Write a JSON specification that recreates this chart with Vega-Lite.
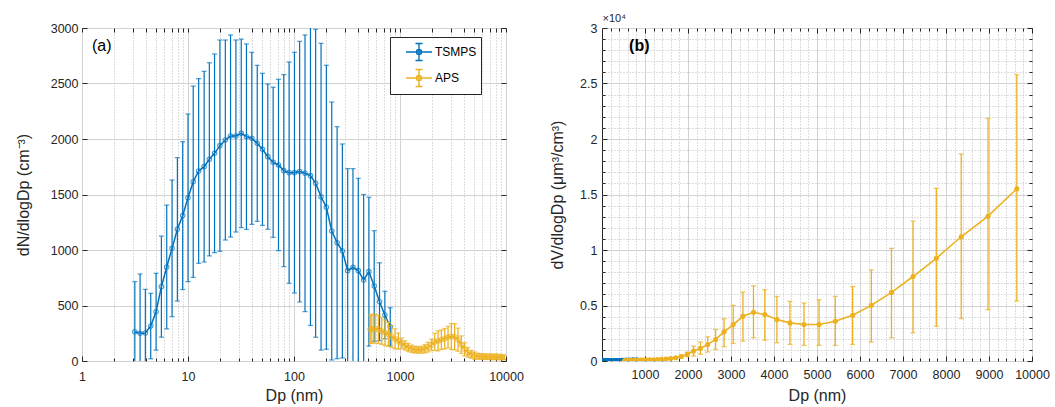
{
  "$schema": "https://vega.github.io/schema/vega-lite/v6.json",
  "background": "white",
  "padding": {"left": 14, "top": 11, "right": 3, "bottom": 3},
  "bounds": "flush",
  "spacing": 96,
  "config": {
    "font": "Liberation Sans",
    "view": {"stroke": "#262626", "strokeWidth": 1, "fill": "white"},
    "axis": {
      "domain": false,
      "labelFont": "Liberation Sans",
      "labelFontSize": 12.5,
      "labelColor": "#262626",
      "titleFont": "Liberation Sans",
      "titleFontSize": 16,
      "titleFontWeight": "normal",
      "titleColor": "#262626",
      "tickColor": "#262626",
      "tickWidth": 1,
      "gridColor": "#d2d2d2",
      "gridWidth": 1
    }
  },
  "datasets": {
    "tsmps": [
      {"Dp": 3.15, "dN": 264, "lo": -187, "hi": 715, "dV": 0.0000},
      {"Dp": 3.53, "dN": 249, "lo": -286, "hi": 784, "dV": 0.0000},
      {"Dp": 3.96, "dN": 252, "lo": -142, "hi": 646, "dV": 0.0000},
      {"Dp": 4.45, "dN": 315, "lo": 20, "hi": 610, "dV": 0.0000},
      {"Dp": 5.00, "dN": 444, "lo": 98, "hi": 790, "dV": 0.0000},
      {"Dp": 5.61, "dN": 670, "lo": 215, "hi": 1125, "dV": 0.0001},
      {"Dp": 6.30, "dN": 847, "lo": 289, "hi": 1405, "dV": 0.0001},
      {"Dp": 7.07, "dN": 1015, "lo": 400, "hi": 1630, "dV": 0.0002},
      {"Dp": 7.94, "dN": 1186, "lo": 540, "hi": 1832, "dV": 0.0003},
      {"Dp": 8.91, "dN": 1310, "lo": 644, "hi": 1976, "dV": 0.0005},
      {"Dp": 10.0, "dN": 1470, "lo": 715, "hi": 2225, "dV": 0.0008},
      {"Dp": 11.2, "dN": 1615, "lo": 753, "hi": 2477, "dV": 0.0012},
      {"Dp": 12.6, "dN": 1712, "lo": 880, "hi": 2544, "dV": 0.0018},
      {"Dp": 14.2, "dN": 1751, "lo": 892, "hi": 2610, "dV": 0.0026},
      {"Dp": 15.9, "dN": 1817, "lo": 947, "hi": 2687, "dV": 0.004},
      {"Dp": 17.8, "dN": 1871, "lo": 976, "hi": 2766, "dV": 0.006},
      {"Dp": 20.0, "dN": 1940, "lo": 988, "hi": 2892, "dV": 0.008},
      {"Dp": 22.5, "dN": 1991, "lo": 1090, "hi": 2892, "dV": 0.012},
      {"Dp": 25.2, "dN": 2027, "lo": 1117, "hi": 2937, "dV": 0.017},
      {"Dp": 28.3, "dN": 2027, "lo": 1162, "hi": 2892, "dV": 0.024},
      {"Dp": 31.8, "dN": 2051, "lo": 1202, "hi": 2900, "dV": 0.035},
      {"Dp": 35.6, "dN": 2021, "lo": 1186, "hi": 2856, "dV": 0.048},
      {"Dp": 40.0, "dN": 2006, "lo": 1231, "hi": 2781, "dV": 0.067},
      {"Dp": 45.0, "dN": 1961, "lo": 1258, "hi": 2664, "dV": 0.094},
      {"Dp": 50.4, "dN": 1907, "lo": 1222, "hi": 2592, "dV": 0.128},
      {"Dp": 56.6, "dN": 1841, "lo": 1187, "hi": 2495, "dV": 0.175},
      {"Dp": 63.6, "dN": 1790, "lo": 1114, "hi": 2466, "dV": 0.241},
      {"Dp": 71.4, "dN": 1766, "lo": 994, "hi": 2538, "dV": 0.337},
      {"Dp": 80.1, "dN": 1715, "lo": 850, "hi": 2580, "dV": 0.461},
      {"Dp": 89.9, "dN": 1697, "lo": 700, "hi": 2694, "dV": 0.645},
      {"Dp": 101, "dN": 1697, "lo": 613, "hi": 2781, "dV": 0.92},
      {"Dp": 113, "dN": 1706, "lo": 532, "hi": 2880, "dV": 1.3},
      {"Dp": 127, "dN": 1691, "lo": 445, "hi": 2937, "dV": 1.8},
      {"Dp": 143, "dN": 1670, "lo": 320, "hi": 3020, "dV": 2.6},
      {"Dp": 160, "dN": 1601, "lo": 214, "hi": 2988, "dV": 3.4},
      {"Dp": 180, "dN": 1480, "lo": 98, "hi": 2862, "dV": 4.5},
      {"Dp": 202, "dN": 1385, "lo": 106, "hi": 2664, "dV": 6.0},
      {"Dp": 227, "dN": 1171, "lo": 9, "hi": 2333, "dV": 7.2},
      {"Dp": 255, "dN": 1066, "lo": 21, "hi": 2111, "dV": 9.3},
      {"Dp": 286, "dN": 991, "lo": 27, "hi": 1955, "dV": 12},
      {"Dp": 321, "dN": 814, "lo": -105, "hi": 1733, "dV": 14},
      {"Dp": 360, "dN": 844, "lo": -45, "hi": 1733, "dV": 21},
      {"Dp": 404, "dN": 814, "lo": -18, "hi": 1646, "dV": 28},
      {"Dp": 454, "dN": 730, "lo": -40, "hi": 1500, "dV": 36},
      {"Dp": 509, "dN": 805, "lo": 135, "hi": 1475, "dV": 56},
      {"Dp": 571, "dN": 676, "lo": 178, "hi": 1174, "dV": 66},
      {"Dp": 641, "dN": 534, "lo": 183, "hi": 885, "dV": 74},
      {"Dp": 720, "dN": 414, "lo": 200, "hi": 628, "dV": 81},
      {"Dp": 809, "dN": 309, "lo": 138, "hi": 480, "dV": 86}
    ],
    "aps": [
      {"Dp": 523, "dN": 285, "dNlo": 157, "dNhi": 413, "dV": 21, "dVlo": 12, "dVhi": 30},
      {"Dp": 542, "dN": 290, "dNlo": 160, "dNhi": 421, "dV": 24, "dVlo": 13, "dVhi": 35},
      {"Dp": 583, "dN": 292, "dNlo": 161, "dNhi": 423, "dV": 30, "dVlo": 17, "dVhi": 44},
      {"Dp": 626, "dN": 285, "dNlo": 157, "dNhi": 413, "dV": 37, "dVlo": 20, "dVhi": 54},
      {"Dp": 673, "dN": 270, "dNlo": 149, "dNhi": 392, "dV": 43, "dVlo": 24, "dVhi": 62},
      {"Dp": 723, "dN": 255, "dNlo": 140, "dNhi": 370, "dV": 50, "dVlo": 28, "dVhi": 73},
      {"Dp": 777, "dN": 240, "dNlo": 132, "dNhi": 348, "dV": 59, "dVlo": 32, "dVhi": 86},
      {"Dp": 835, "dN": 220, "dNlo": 121, "dNhi": 319, "dV": 67, "dVlo": 37, "dVhi": 97},
      {"Dp": 898, "dN": 200, "dNlo": 110, "dNhi": 290, "dV": 76, "dVlo": 42, "dVhi": 110},
      {"Dp": 965, "dN": 180, "dNlo": 108, "dNhi": 252, "dV": 85, "dVlo": 51, "dVhi": 119},
      {"Dp": 1037, "dN": 160, "dNlo": 112, "dNhi": 208, "dV": 93, "dVlo": 65, "dVhi": 121},
      {"Dp": 1114, "dN": 140, "dNlo": 98, "dNhi": 182, "dV": 101, "dVlo": 71, "dVhi": 131},
      {"Dp": 1197, "dN": 122, "dNlo": 85, "dNhi": 159, "dV": 110, "dVlo": 77, "dVhi": 143},
      {"Dp": 1286, "dN": 110, "dNlo": 77, "dNhi": 143, "dV": 122, "dVlo": 85, "dVhi": 159},
      {"Dp": 1382, "dN": 103, "dNlo": 72, "dNhi": 134, "dV": 142, "dVlo": 99, "dVhi": 185},
      {"Dp": 1486, "dN": 100, "dNlo": 70, "dNhi": 130, "dV": 172, "dVlo": 120, "dVhi": 224},
      {"Dp": 1596, "dN": 102, "dNlo": 71, "dNhi": 133, "dV": 217, "dVlo": 152, "dVhi": 282},
      {"Dp": 1715, "dN": 110, "dNlo": 72, "dNhi": 149, "dV": 291, "dVlo": 189, "dVhi": 393},
      {"Dp": 1843, "dN": 125, "dNlo": 81, "dNhi": 169, "dV": 410, "dVlo": 267, "dVhi": 554},
      {"Dp": 1981, "dN": 145, "dNlo": 94, "dNhi": 196, "dV": 590, "dVlo": 384, "dVhi": 797},
      {"Dp": 2129, "dN": 172, "dNlo": 95, "dNhi": 249, "dV": 896, "dVlo": 448, "dVhi": 1343},
      {"Dp": 2288, "dN": 181, "dNlo": 91, "dNhi": 272, "dV": 1134, "dVlo": 597, "dVhi": 1701},
      {"Dp": 2458, "dN": 192, "dNlo": 104, "dNhi": 280, "dV": 1493, "dVlo": 806, "dVhi": 2179},
      {"Dp": 2642, "dN": 201, "dNlo": 109, "dNhi": 293, "dV": 1940, "dVlo": 1045, "dVhi": 2836},
      {"Dp": 2839, "dN": 215, "dNlo": 118, "dNhi": 312, "dV": 2627, "dVlo": 1284, "dVhi": 3821},
      {"Dp": 3051, "dN": 221, "dNlo": 104, "dNhi": 338, "dV": 3284, "dVlo": 1582, "dVhi": 5015},
      {"Dp": 3278, "dN": 218, "dNlo": 100, "dNhi": 336, "dV": 4030, "dVlo": 1791, "dVhi": 6209},
      {"Dp": 3523, "dN": 192, "dNlo": 88, "dNhi": 296, "dV": 4388, "dVlo": 2090, "dVhi": 6776},
      {"Dp": 3786, "dN": 147, "dNlo": 68, "dNhi": 226, "dV": 4179, "dVlo": 1881, "dVhi": 6418},
      {"Dp": 4068, "dN": 106, "dNlo": 47, "dNhi": 165, "dV": 3731, "dVlo": 1642, "dVhi": 5821},
      {"Dp": 4371, "dN": 78, "dNlo": 34, "dNhi": 122, "dV": 3433, "dVlo": 1493, "dVhi": 5373},
      {"Dp": 4698, "dN": 60, "dNlo": 25, "dNhi": 95, "dV": 3284, "dVlo": 1403, "dVhi": 5224},
      {"Dp": 5048, "dN": 49, "dNlo": 16, "dNhi": 82, "dV": 3284, "dVlo": 1403, "dVhi": 5522},
      {"Dp": 5425, "dN": 43, "dNlo": 16, "dNhi": 70, "dV": 3582, "dVlo": 1403, "dVhi": 5821},
      {"Dp": 5829, "dN": 40, "dNlo": 15, "dNhi": 65, "dV": 4119, "dVlo": 1493, "dVhi": 6716},
      {"Dp": 6264, "dN": 39, "dNlo": 14, "dNhi": 64, "dV": 5015, "dVlo": 1701, "dVhi": 8209},
      {"Dp": 6732, "dN": 38.7, "dNlo": 14, "dNhi": 64, "dV": 6179, "dVlo": 2090, "dVhi": 10149},
      {"Dp": 7234, "dN": 38.4, "dNlo": 13, "dNhi": 63, "dV": 7612, "dVlo": 2537, "dVhi": 12597},
      {"Dp": 7774, "dN": 37.6, "dNlo": 12, "dNhi": 63, "dV": 9254, "dVlo": 3134, "dVhi": 15558},
      {"Dp": 8354, "dN": 36.7, "dNlo": 12, "dNhi": 61, "dV": 11194, "dVlo": 3821, "dVhi": 18649},
      {"Dp": 8977, "dN": 34.4, "dNlo": 11, "dNhi": 58, "dV": 13045, "dVlo": 4627, "dVhi": 21865},
      {"Dp": 9647, "dN": 33, "dNlo": 11, "dNhi": 55, "dV": 15522, "dVlo": 5400, "dVhi": 25800}
    ]
  },
  "hconcat": [
    {
      "width": 424,
      "height": 333,
      "resolve": {"axis": {"x": "independent", "y": "independent"}},
      "layer": [
        {
          "data": {"name": "tsmps"},
          "mark": {"type": "rule", "clip": true, "color": "#0072BD", "strokeWidth": 1.2},
          "encoding": {
            "x": {"field": "Dp", "type": "quantitative", "scale": {"type": "log", "domain": [1, 10000], "nice": false},
              "axis": {"orient": "bottom", "values": [1, 10, 100, 1000, 10000], "format": "d", "title": "Dp (nm)", "grid": true, "ticks": false, "labelPadding": 9, "labelFlush": false, "labelOverlap": false, "titleY": 34, "titleBaseline": "middle"}},
            "y": {"field": "lo", "type": "quantitative", "scale": {"domain": [0, 3000], "nice": false},
              "axis": {"orient": "left", "values": [0, 500, 1000, 1500, 2000, 2500, 3000], "format": "d", "title": "dN/dlogDp (cm⁻³)", "grid": true, "ticks": false, "labelPadding": 4, "titleX": -59, "titleBaseline": "middle"}},
            "y2": {"field": "hi"}
          }
        },
        {
          "data": {"name": "tsmps"},
          "mark": {"type": "tick", "orient": "horizontal", "size": 5, "thickness": 1.2, "clip": true, "color": "#0072BD"},
          "encoding": {
            "x": {"field": "Dp", "type": "quantitative", "scale": {"type": "log", "domain": [1, 10000], "nice": false},
              "axis": {"orient": "bottom", "values": [2, 3, 4, 5, 6, 7, 8, 9, 20, 30, 40, 50, 60, 70, 80, 90, 200, 300, 400, 500, 600, 700, 800, 900, 2000, 3000, 4000, 5000, 6000, 7000, 8000, 9000], "labels": false, "title": null, "grid": true, "gridColor": "#bdbdbd", "gridDash": [1, 2], "ticks": true, "tickSize": -3}},
            "y": {"field": "hi", "type": "quantitative", "scale": {"domain": [0, 3000], "nice": false},
              "axis": {"orient": "left", "values": [0, 500, 1000, 1500, 2000, 2500, 3000], "labels": false, "title": null, "grid": false, "ticks": true, "tickSize": -5}}
          }
        },
        {
          "data": {"name": "tsmps"},
          "mark": {"type": "tick", "orient": "horizontal", "size": 5, "thickness": 1.2, "clip": true, "color": "#0072BD"},
          "encoding": {
            "x": {"field": "Dp", "type": "quantitative", "scale": {"type": "log", "domain": [1, 10000], "nice": false},
              "axis": {"orient": "bottom", "values": [1, 10, 100, 1000, 10000], "labels": false, "title": null, "grid": false, "ticks": true, "tickSize": -5}},
            "y": {"field": "lo", "type": "quantitative", "scale": {"domain": [0, 3000], "nice": false},
              "axis": {"orient": "right", "values": [0, 500, 1000, 1500, 2000, 2500, 3000], "labels": false, "title": null, "grid": false, "ticks": true, "tickSize": -5}}
          }
        },
        {
          "data": {"name": "tsmps"},
          "mark": {"type": "line", "strokeWidth": 1.5, "clip": true},
          "encoding": {
            "x": {"field": "Dp", "type": "quantitative", "scale": {"type": "log", "domain": [1, 10000], "nice": false},
              "axis": {"orient": "top", "values": [1, 2, 3, 4, 5, 6, 7, 8, 9, 10, 20, 30, 40, 50, 60, 70, 80, 90, 100, 200, 300, 400, 500, 600, 700, 800, 900, 1000, 2000, 3000, 4000, 5000, 6000, 7000, 8000, 9000, 10000], "labels": false, "title": null, "grid": false, "ticks": true, "tickSize": -4}},
            "y": {"field": "dN", "type": "quantitative", "scale": {"domain": [0, 3000], "nice": false}, "axis": null},
            "color": {"datum": "TSMPS", "type": "nominal",
              "scale": {"domain": ["TSMPS", "APS"], "range": ["#0072BD", "#EDB120"]},
              "legend": {"orient": "none", "legendX": 308, "legendY": 9, "title": null,
                "symbolType": "M-1.3,0H1.3M0,-0.85V0.85M-0.35,-0.85H0.35M-0.35,0.85H0.35M0.25,0A0.25,0.25 0 1 1 -0.25,0A0.25,0.25 0 1 1 0.25,0",
                "symbolSize": 400, "symbolStrokeWidth": 1.4, "symbolOffset": 14, "labelOffset": 5,
                "padding": 4, "rowPadding": 2, "labelFontSize": 12, "labelFont": "Liberation Sans", "labelColor": "#000000",
                "strokeColor": "#262626", "fillColor": "white", "cornerRadius": 0,
                "labelExpr": "datum.label + '     '"}}
          }
        },
        {
          "data": {"name": "tsmps"},
          "mark": {"type": "point", "shape": "circle", "filled": false, "size": 20, "strokeWidth": 1.1, "color": "#0072BD", "clip": true},
          "encoding": {
            "x": {"field": "Dp", "type": "quantitative", "scale": {"type": "log", "domain": [1, 10000], "nice": false}, "axis": null},
            "y": {"field": "dN", "type": "quantitative", "scale": {"domain": [0, 3000], "nice": false}, "axis": null}
          }
        },
        {
          "data": {"name": "aps"},
          "mark": {"type": "rule", "clip": true, "color": "#EDB120", "strokeWidth": 1.3},
          "encoding": {
            "x": {"field": "Dp", "type": "quantitative", "scale": {"type": "log", "domain": [1, 10000], "nice": false}, "axis": null},
            "y": {"field": "dNlo", "type": "quantitative", "scale": {"domain": [0, 3000], "nice": false}, "axis": null},
            "y2": {"field": "dNhi"}
          }
        },
        {
          "data": {"name": "aps"},
          "mark": {"type": "tick", "orient": "horizontal", "size": 5, "thickness": 1.3, "clip": true, "color": "#EDB120"},
          "encoding": {
            "x": {"field": "Dp", "type": "quantitative", "scale": {"type": "log", "domain": [1, 10000], "nice": false}, "axis": null},
            "y": {"field": "dNhi", "type": "quantitative", "scale": {"domain": [0, 3000], "nice": false}, "axis": null}
          }
        },
        {
          "data": {"name": "aps"},
          "mark": {"type": "tick", "orient": "horizontal", "size": 5, "thickness": 1.3, "clip": true, "color": "#EDB120"},
          "encoding": {
            "x": {"field": "Dp", "type": "quantitative", "scale": {"type": "log", "domain": [1, 10000], "nice": false}, "axis": null},
            "y": {"field": "dNlo", "type": "quantitative", "scale": {"domain": [0, 3000], "nice": false}, "axis": null}
          }
        },
        {
          "data": {"name": "aps"},
          "mark": {"type": "line", "strokeWidth": 1.6, "clip": true},
          "encoding": {
            "x": {"field": "Dp", "type": "quantitative", "scale": {"type": "log", "domain": [1, 10000], "nice": false}, "axis": null},
            "y": {"field": "dN", "type": "quantitative", "scale": {"domain": [0, 3000], "nice": false}, "axis": null},
            "color": {"datum": "APS", "type": "nominal",
              "scale": {"domain": ["TSMPS", "APS"], "range": ["#0072BD", "#EDB120"]},
              "legend": {"orient": "none", "legendX": 308, "legendY": 9, "title": null,
                "symbolType": "M-1.3,0H1.3M0,-0.85V0.85M-0.35,-0.85H0.35M-0.35,0.85H0.35M0.25,0A0.25,0.25 0 1 1 -0.25,0A0.25,0.25 0 1 1 0.25,0",
                "symbolSize": 400, "symbolStrokeWidth": 1.4, "symbolOffset": 14, "labelOffset": 5,
                "padding": 4, "rowPadding": 2, "labelFontSize": 12, "labelFont": "Liberation Sans", "labelColor": "#000000",
                "strokeColor": "#262626", "fillColor": "white", "cornerRadius": 0,
                "labelExpr": "datum.label + '     '"}}
          }
        },
        {
          "data": {"name": "aps"},
          "mark": {"type": "point", "shape": "circle", "filled": false, "size": 22, "strokeWidth": 1.2, "color": "#EDB120", "clip": true},
          "encoding": {
            "x": {"field": "Dp", "type": "quantitative", "scale": {"type": "log", "domain": [1, 10000], "nice": false}, "axis": null},
            "y": {"field": "dN", "type": "quantitative", "scale": {"domain": [0, 3000], "nice": false}, "axis": null}
          }
        },
        {
          "data": {"values": [{"label": "(a)"}]},
          "mark": {"type": "text", "align": "left", "baseline": "middle", "fontSize": 16, "font": "Liberation Sans", "color": "#000000"},
          "encoding": {
            "x": {"datum": 1.24, "type": "quantitative", "scale": {"type": "log", "domain": [1, 10000], "nice": false}, "axis": null},
            "y": {"datum": 2840, "type": "quantitative", "scale": {"domain": [0, 3000], "nice": false}, "axis": null},
            "text": {"field": "label"}
          }
        }
      ]
    },
    {
      "width": 430,
      "height": 333,
      "resolve": {"axis": {"x": "independent", "y": "independent"}},
      "layer": [
        {
          "data": {"name": "tsmps"},
          "mark": {"type": "line", "strokeWidth": 2, "color": "#0072BD", "clip": true},
          "encoding": {
            "x": {"field": "Dp", "type": "quantitative", "scale": {"domain": [0, 10000], "nice": false, "zero": false},
              "axis": {"orient": "bottom", "values": [1000, 2000, 3000, 4000, 5000, 6000, 7000, 8000, 9000, 10000], "format": "d", "title": "Dp (nm)", "grid": true, "ticks": false, "labelPadding": 7, "labelFlush": false, "labelOverlap": false, "titleY": 34, "titleBaseline": "middle"}},
            "y": {"field": "dV", "type": "quantitative", "scale": {"domain": [0, 30000], "nice": false},
              "axis": {"orient": "left", "values": [0, 5000, 10000, 15000, 20000, 25000, 30000], "labelExpr": "datum.value / 10000", "title": "dV/dlogDp (μm³/cm³)", "grid": true, "ticks": false, "labelPadding": 5, "titleX": -45, "titleBaseline": "middle"}}
          }
        },
        {
          "data": {"name": "tsmps"},
          "mark": {"type": "point", "shape": "circle", "filled": true, "size": 30, "color": "#0072BD", "opacity": 1, "clip": true},
          "encoding": {
            "x": {"field": "Dp", "type": "quantitative", "scale": {"domain": [0, 10000], "nice": false, "zero": false},
              "axis": {"orient": "bottom", "values": [200, 400, 600, 800, 1200, 1400, 1600, 1800, 2200, 2400, 2600, 2800, 3200, 3400, 3600, 3800, 4200, 4400, 4600, 4800, 5200, 5400, 5600, 5800, 6200, 6400, 6600, 6800, 7200, 7400, 7600, 7800, 8200, 8400, 8600, 8800, 9200, 9400, 9600, 9800], "labels": false, "title": null, "grid": true, "gridColor": "#bdbdbd", "gridDash": [1, 2], "ticks": true, "tickSize": -3}},
            "y": {"field": "dV", "type": "quantitative", "scale": {"domain": [0, 30000], "nice": false},
              "axis": {"orient": "left", "values": [1000, 2000, 3000, 4000, 6000, 7000, 8000, 9000, 11000, 12000, 13000, 14000, 16000, 17000, 18000, 19000, 21000, 22000, 23000, 24000, 26000, 27000, 28000, 29000], "labels": false, "title": null, "grid": true, "gridColor": "#bdbdbd", "gridDash": [1, 2], "ticks": true, "tickSize": -3}}
          }
        },
        {
          "data": {"name": "aps"},
          "mark": {"type": "rule", "clip": true, "color": "#EDB120", "strokeWidth": 1.3},
          "encoding": {
            "x": {"field": "Dp", "type": "quantitative", "scale": {"domain": [0, 10000], "nice": false, "zero": false},
              "axis": {"orient": "bottom", "values": [1000, 2000, 3000, 4000, 5000, 6000, 7000, 8000, 9000, 10000], "labels": false, "title": null, "grid": false, "ticks": true, "tickSize": -5}},
            "y": {"field": "dVlo", "type": "quantitative", "scale": {"domain": [0, 30000], "nice": false},
              "axis": {"orient": "left", "values": [0, 5000, 10000, 15000, 20000, 25000, 30000], "labels": false, "title": null, "grid": false, "ticks": true, "tickSize": -5}},
            "y2": {"field": "dVhi"}
          }
        },
        {
          "data": {"name": "aps"},
          "mark": {"type": "tick", "orient": "horizontal", "size": 5, "thickness": 1.3, "clip": true, "color": "#EDB120"},
          "encoding": {
            "x": {"field": "Dp", "type": "quantitative", "scale": {"domain": [0, 10000], "nice": false, "zero": false},
              "axis": {"orient": "top", "values": [1000, 2000, 3000, 4000, 5000, 6000, 7000, 8000, 9000, 10000], "labels": false, "title": "×10⁴", "titleX": 0, "titleY": -5, "titleAlign": "left", "titleBaseline": "bottom", "titleAngle": 0, "titleFontSize": 11, "grid": false, "ticks": true, "tickSize": -5}},
            "y": {"field": "dVhi", "type": "quantitative", "scale": {"domain": [0, 30000], "nice": false},
              "axis": {"orient": "right", "values": [0, 5000, 10000, 15000, 20000, 25000, 30000], "labels": false, "title": null, "grid": false, "ticks": true, "tickSize": -5}}
          }
        },
        {
          "data": {"name": "aps"},
          "mark": {"type": "tick", "orient": "horizontal", "size": 5, "thickness": 1.3, "clip": true, "color": "#EDB120"},
          "encoding": {
            "x": {"field": "Dp", "type": "quantitative", "scale": {"domain": [0, 10000], "nice": false, "zero": false},
              "axis": {"orient": "top", "values": [200, 400, 600, 800, 1200, 1400, 1600, 1800, 2200, 2400, 2600, 2800, 3200, 3400, 3600, 3800, 4200, 4400, 4600, 4800, 5200, 5400, 5600, 5800, 6200, 6400, 6600, 6800, 7200, 7400, 7600, 7800, 8200, 8400, 8600, 8800, 9200, 9400, 9600, 9800], "labels": false, "title": null, "grid": false, "ticks": true, "tickSize": -3}},
            "y": {"field": "dVlo", "type": "quantitative", "scale": {"domain": [0, 30000], "nice": false},
              "axis": {"orient": "right", "values": [1000, 2000, 3000, 4000, 6000, 7000, 8000, 9000, 11000, 12000, 13000, 14000, 16000, 17000, 18000, 19000, 21000, 22000, 23000, 24000, 26000, 27000, 28000, 29000], "labels": false, "title": null, "grid": false, "ticks": true, "tickSize": -3}}
          }
        },
        {
          "data": {"name": "aps"},
          "mark": {"type": "line", "strokeWidth": 1.6, "color": "#EDB120", "clip": true},
          "encoding": {
            "x": {"field": "Dp", "type": "quantitative", "scale": {"domain": [0, 10000], "nice": false, "zero": false}, "axis": null},
            "y": {"field": "dV", "type": "quantitative", "scale": {"domain": [0, 30000], "nice": false}, "axis": null}
          }
        },
        {
          "data": {"name": "aps"},
          "mark": {"type": "point", "shape": "circle", "filled": true, "size": 26, "color": "#EDB120", "opacity": 1, "clip": true},
          "encoding": {
            "x": {"field": "Dp", "type": "quantitative", "scale": {"domain": [0, 10000], "nice": false, "zero": false}, "axis": null},
            "y": {"field": "dV", "type": "quantitative", "scale": {"domain": [0, 30000], "nice": false}, "axis": null}
          }
        },
        {
          "data": {"values": [{"label": "(b)"}]},
          "mark": {"type": "text", "align": "left", "baseline": "middle", "fontSize": 16, "fontWeight": "bold", "font": "Liberation Sans", "color": "#000000"},
          "encoding": {
            "x": {"datum": 630, "type": "quantitative", "scale": {"domain": [0, 10000], "nice": false, "zero": false}, "axis": null},
            "y": {"datum": 28400, "type": "quantitative", "scale": {"domain": [0, 30000], "nice": false}, "axis": null},
            "text": {"field": "label"}
          }
        }
      ]
    }
  ]
}
